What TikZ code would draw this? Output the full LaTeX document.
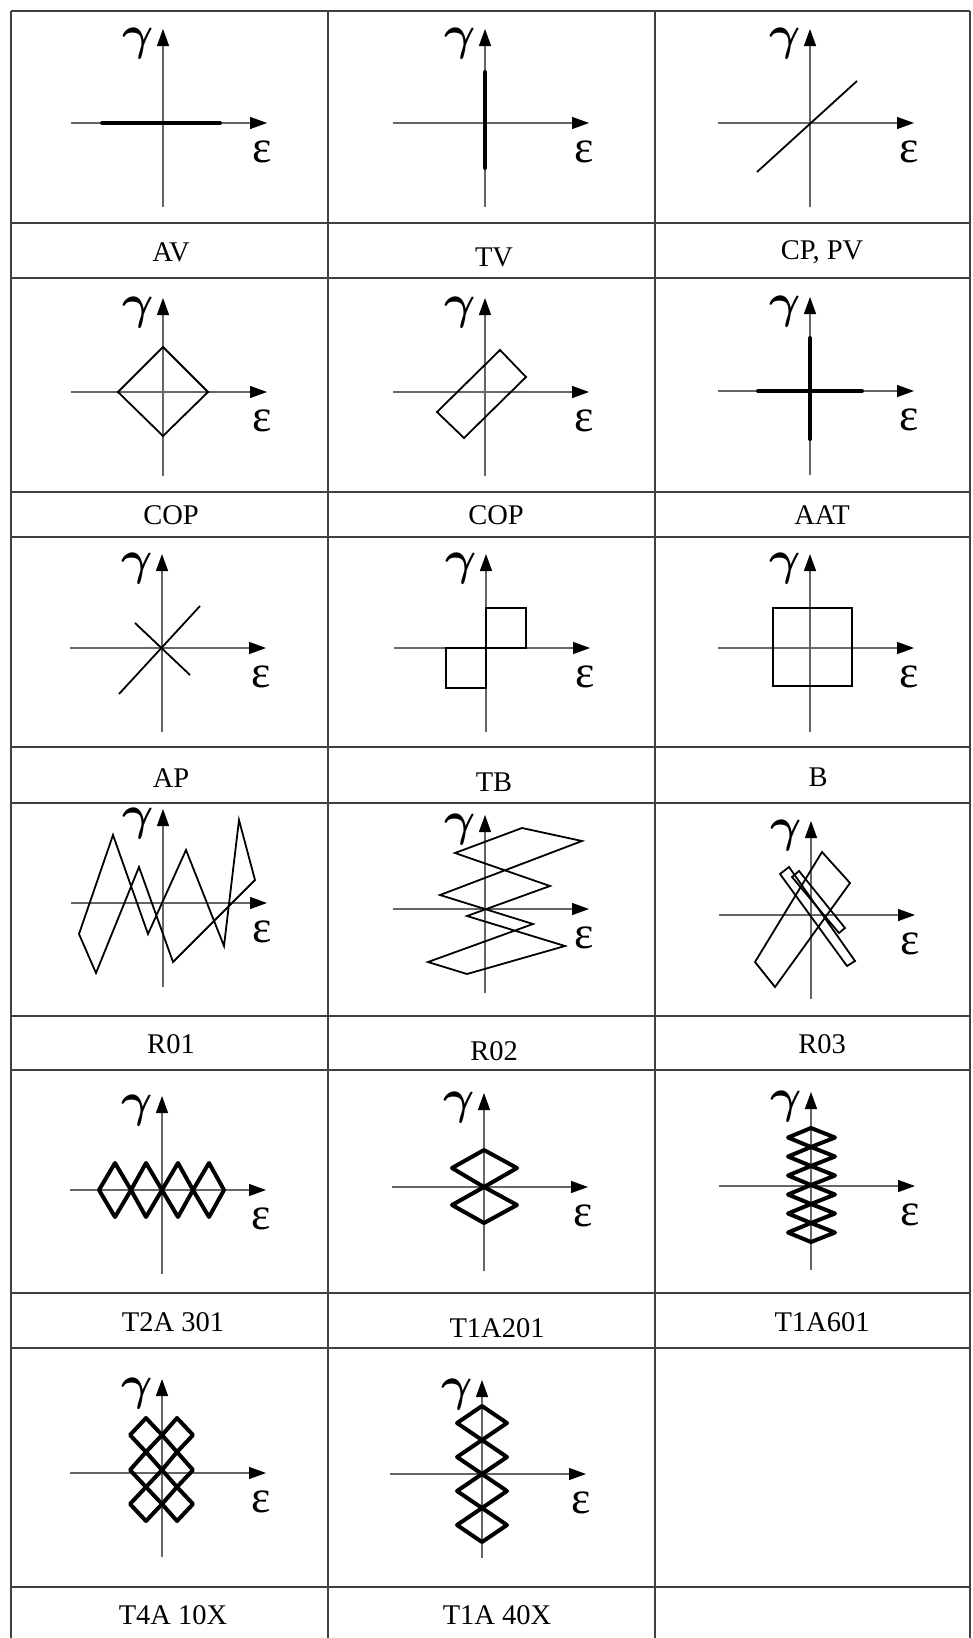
\RequirePackage{fix-cm}
\documentclass[tikz,border=0pt]{standalone}
\usepackage{fontspec}
\setmainfont{Liberation Serif}
\usetikzlibrary{arrows.meta}

\tikzset{
  grid line/.style={line width=2pt, draw=black!75},
  axis/.style={line width=1.3pt, draw=black!60, -{Triangle[length=17pt,width=12pt,color=black]}},
  thin curve/.style={line width=1.8pt, line join=miter},
  thick curve/.style={line width=4pt, line join=round, line cap=round},
  caption/.style={font=\fontsize{28.5}{28.5}\selectfont, inner sep=0pt},
  greek/.style={font=\fontsize{46}{46}\selectfont, inner sep=0pt},
}

% axes of one panel with their labels, #1 = panel name
\newcommand{\axes}[1]{%
  \draw[axis] (-92,0) -- (104,0);
  \draw[axis] (0,84) -- (0,-94);
  \node[greek, font=\fontsize{48}{48}\selectfont\boldmath] (g#1) at (-25,-80) {$\gamma$};
  \node[greek] (e#1) at (99,29) {ε};
}

\begin{document}
\begin{tikzpicture}[x=1pt, y=-1pt]

    \useasboundingbox (0,0) rectangle (972,1638);

    % Table lines
    \foreach \ypos in {11,223,278,492,537,747,803,1016,1070,1293,1348,1587}
      \draw[grid line] (11,\ypos) -- (970,\ypos);
    \foreach \xpos in {11,328,655,970}
      \draw[grid line] (\xpos,11) -- (\xpos,1640);

    % Row 1
    \begin{scope}[shift={(163,123)}]
      \axes{AV}
      \draw[thick curve] (-61,0) -- (57,0);
    \end{scope}
    \begin{scope}[shift={(485,123)}]
      \axes{TV}
      \draw[thick curve] (0,-51) -- (0,45);
    \end{scope}
    \begin{scope}[shift={(810,123)}]
      \axes{CP}
      \draw[thin curve] (-53,49) -- (47,-42);
    \end{scope}
    \node[caption] (lAV) at (171,252) {AV};
    \node[caption] (lTV) at (494,257) {TV};
    \node[caption] (lCP) at (822,252) {CP, PV};

    % Row 2
    \begin{scope}[shift={(163,392)}]
      \axes{COPa}
      \draw[thin curve] (0,-45) -- (45,0) -- (0,44) -- (-45,0) -- cycle;
    \end{scope}
    \begin{scope}[shift={(485,392)}]
      \axes{COPb}
      \draw[thin curve] (15,-42) -- (41,-15) -- (-21,46) -- (-48,20) -- cycle;
    \end{scope}
    \begin{scope}[shift={(810,391)}]
      \axes{AAT}
      \draw[thick curve] (-52,0) -- (52,0);
      \draw[thick curve] (0,-53) -- (0,48);
    \end{scope}
    \node[caption] (lCOPa) at (171,515) {COP};
    \node[caption] (lCOPb) at (496,515) {COP};
    \node[caption] (lAAT) at (822,515) {AAT};

    % Row 3
    \begin{scope}[shift={(162,648)}]
      \axes{AP}
      \draw[thin curve] (-43,46) -- (38,-42);
      \draw[thin curve] (-27,-25) -- (28,27);
    \end{scope}
    \begin{scope}[shift={(486,648)}]
      \axes{TB}
      \draw[thin curve] (0,0) rectangle (40,-40);
      \draw[thin curve] (-40,0) rectangle (0,40);
    \end{scope}
    \begin{scope}[shift={(810,648)}]
      \axes{B}
      \draw[thin curve] (-37,-40) rectangle (42,38);
    \end{scope}
    \node[caption] (lAP) at (171,778) {AP};
    \node[caption] (lTB) at (494,782) {TB};
    \node[caption] (lB) at (818,777) {B};

    % Row 4
    \begin{scope}[shift={(163,903)}]
      \axes{R01}
      \draw[thin curve] (-84,31) -- (-50,-68) -- (-15,31) -- (23,-53) -- (61,43)
        -- (76,-83) -- (92,-23) -- (10,59) -- (-24,-36) -- (-67,70) -- cycle;
    \end{scope}
    \begin{scope}[shift={(485,909)}]
      \axes{R02}
      \draw[thin curve] (-18,65) -- (-57,53) -- (48,15) -- (-45,-14) -- (97,-68)
        -- (37,-81) -- (-30,-56) -- (65,-23) -- (-18,7) -- (80,37) -- cycle;
    \end{scope}
    \begin{scope}[shift={(811,915)}]
      \axes{R03}
      \draw[thin curve] (11,-63) -- (39,-32) -- (-36,72) -- (-56,47) -- cycle;
      \draw[thin curve] (-31,-41) -- (-22,-48) -- (44,46) -- (36,51) -- cycle;
      \draw[thin curve] (-19,-38) -- (-12,-44) -- (34,13) -- (28,18) -- cycle;
    \end{scope}
    \node[caption] (lR01) at (171,1044) {R01};
    \node[caption] (lR02) at (494,1051) {R02};
    \node[caption] (lR03) at (822,1044) {R03};

    % Row 5
    \begin{scope}[shift={(162,1190)}]
      \axes{TtwoA}
      \draw[thick curve] (-63,0) -- (-47,-27) -- (-31,0) -- (-16,-27) -- (0,0) -- (16,-27)
        -- (31,0) -- (47,-27) -- (62,0) -- (47,27) -- (31,0) -- (16,27) -- (0,0)
        -- (-16,27) -- (-31,0) -- (-47,27) -- cycle;
    \end{scope}
    \begin{scope}[shift={(484,1187)}]
      \axes{TzwoA}
      \draw[thick curve] (0,0) -- (-32,-19) -- (0,-37) -- (33,-19) -- cycle;
      \draw[thick curve] (0,0) -- (-32,18) -- (0,36) -- (33,18) -- cycle;
    \end{scope}
    \begin{scope}[shift={(811,1186)}]
      \axes{TsixA}
      \draw[thick curve] (0,-58) -- (-23,-48.5) -- (0,-39) -- (-23,-29.5) -- (0,-20)
        -- (-23,-10.5) -- (0,-1) -- (-23,8.5) -- (0,18) -- (-23,27.5) -- (0,37)
        -- (-23,46.5) -- (0,56) -- (24,46.5) -- (0,37) -- (24,27.5) -- (0,18)
        -- (24,8.5) -- (0,-1) -- (24,-10.5) -- (0,-20) -- (24,-29.5) -- (0,-39)
        -- (24,-48.5) -- cycle;
    \end{scope}
    \node[caption] (lTtwoA) at (173,1322) {T2A 301};
    \node[caption] (lTzwoA) at (497,1328) {T1A201};
    \node[caption] (lTsixA) at (822,1322) {T1A601};

    % Row 6
    \begin{scope}[shift={(162,1473)}]
      \axes{TfourA}
      \draw[thick curve] (-16,-55) -- (-32,-38) -- (-16,-21) -- (-32,-3) -- (-16,14)
        -- (-32,31) -- (-16,48) -- (0,31) -- (-16,14) -- (0,-3) -- (-16,-21)
        -- (0,-38) -- cycle;
      \draw[thick curve] (15,-55) -- (0,-38) -- (15,-21) -- (0,-3) -- (15,14)
        -- (0,31) -- (15,48) -- (31,31) -- (15,14) -- (31,-3) -- (15,-21)
        -- (31,-38) -- cycle;
    \end{scope}
    \begin{scope}[shift={(482,1474)}]
      \axes{TfortyA}
      \draw[thick curve] (0,-68) -- (-25,-51) -- (0,-34) -- (-25,-17) -- (0,0)
        -- (-25,17) -- (0,34) -- (-25,51) -- (0,68) -- (25,51) -- (0,34)
        -- (25,17) -- (0,0) -- (25,-17) -- (0,-34) -- (25,-51) -- cycle;
    \end{scope}
    \node[caption] (lTfourA) at (173,1615) {T4A 10X};
    \node[caption] (lTfortyA) at (497,1615) {T1A 40X};

\end{tikzpicture}
\end{document}
